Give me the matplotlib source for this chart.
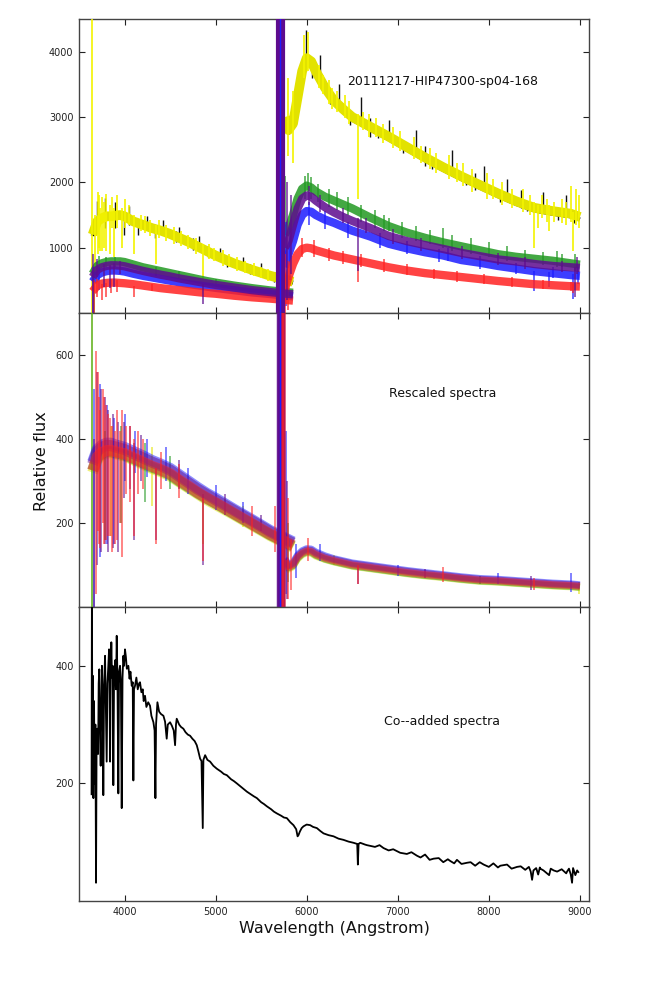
import matplotlib
matplotlib.use("Agg")
import matplotlib.pyplot as plt

# ---------------- data ----------------
# continuum grids (Angstrom)
BLUE_WL = [3650, 3700, 3750, 3800, 3850, 3900, 3950, 4000, 4100, 4200, 4300, 4400,
           4500, 4600, 4700, 4800, 4900, 5000, 5200, 5400, 5600, 5850]
RED_WL = [5760, 5800, 5850, 5900, 5950, 6000, 6050, 6100, 6200, 6300, 6400, 6500,
          6700, 6900, 7100, 7300, 7500, 7700, 7900, 8100, 8300, 8500, 8700, 8900, 9000]

# --- panel 1: raw spectra (blue arm / red arm) ---
RAW_BLACK_B = [1180, 1380, 1430, 1460, 1460, 1470, 1480, 1460, 1380, 1330, 1280, 1240,
               1190, 1130, 1070, 1000, 930, 860, 740, 640, 550, 465]
RAW_YELLOW_B = [1200, 1400, 1450, 1480, 1480, 1490, 1500, 1480, 1400, 1350, 1300, 1260,
                1210, 1150, 1090, 1020, 950, 880, 760, 660, 570, 480]
RAW_GREEN_B = [600, 720, 760, 780, 790, 790, 790, 780, 740, 700, 670, 640,
               610, 580, 550, 520, 490, 465, 420, 380, 345, 310]
RAW_PURPLE_B = [550, 660, 700, 720, 730, 730, 725, 715, 680, 645, 615, 585,
                560, 530, 505, 480, 455, 430, 390, 350, 320, 285]
RAW_BLUE_B = [480, 580, 620, 640, 650, 650, 645, 635, 600, 570, 545, 520,
              495, 470, 445, 425, 405, 385, 350, 315, 290, 255]
RAW_RED_B = [330, 420, 450, 460, 465, 465, 460, 455, 440, 420, 400, 380,
             365, 350, 335, 320, 305, 295, 265, 240, 220, 190]

RAW_BLACK_R = [2950, 2760, 2860, 3260, 3660, 3860, 3810, 3660, 3410, 3210, 3080, 2960,
               2810, 2660, 2500, 2340, 2190, 2050, 1920, 1790, 1670, 1570, 1520, 1480, 1430]
RAW_YELLOW_R = [3000, 2800, 2900, 3300, 3700, 3900, 3850, 3700, 3450, 3250, 3120, 3000,
                2850, 2700, 2540, 2380, 2230, 2090, 1960, 1830, 1710, 1610, 1560, 1520, 1470]
RAW_GREEN_R = [1200, 1300, 1500, 1750, 1900, 1950, 1920, 1860, 1780, 1720, 1660, 1600,
               1460, 1330, 1230, 1150, 1080, 1020, 960, 900, 860, 830, 800, 760, 740]
RAW_PURPLE_R = [1000, 1100, 1350, 1600, 1750, 1800, 1780, 1720, 1620, 1540, 1470, 1410,
                1300, 1180, 1100, 1040, 980, 920, 870, 820, 790, 750, 720, 700, 690]
RAW_BLUE_R = [700, 900, 1100, 1350, 1500, 1560, 1550, 1500, 1430, 1380, 1320, 1260,
              1170, 1060, 990, 930, 880, 810, 770, 720, 680, 640, 610, 580, 570]
RAW_RED_R = [350, 550, 750, 900, 980, 1000, 990, 960, 920, 880, 850, 820,
             760, 700, 650, 610, 580, 550, 520, 490, 465, 440, 425, 410, 405]

# narrow features and noise excursions of the raw spectra: (wavelength, low, high)
RAW_BLACK_SPIKES = [(3700, 1300, 1720), (3780, 1300, 1760), (3900, 1300, 1700), (3990, 1200, 1450),
                    (4050, 1350, 1640), (4150, 1200, 1400), (4250, 1300, 1480), (4330, 1150, 1330),
                    (4420, 1200, 1420), (4560, 1080, 1260), (4600, 1150, 1320), (4750, 970, 1150),
                    (4820, 1000, 1180), (4920, 850, 1020), (5050, 850, 1000), (5130, 700, 870),
                    (5300, 700, 860), (5380, 590, 750), (5500, 620, 760), (5640, 470, 630),
                    (5700, 520, 640), (5990, 3800, 4330), (6060, 3600, 3800), (6150, 3650, 3950),
                    (6260, 3200, 3400), (6350, 3250, 3500), (6480, 2880, 3050), (6600, 2900, 3300),
                    (6780, 2680, 2860), (6900, 2700, 2950), (7060, 2450, 2620), (7200, 2500, 2800),
                    (7380, 2200, 2380), (7600, 2200, 2500), (7750, 1960, 2130), (7950, 1950, 2250),
                    (8120, 1700, 1870), (8200, 1800, 2050), (8420, 1560, 1720), (8600, 1550, 1850),
                    (8760, 1430, 1600), (8850, 1500, 1800), (8940, 1380, 1550),
                    (6700, 2700, 2990), (7300, 2250, 2550), (7850, 1880, 2150), (8350, 1600, 1880)]
RAW_YELLOW_SPIKES = [(3643, -100, 6000), (3680, 600, 1500), (3705, 900, 1850), (3722, 1000, 1800),
                     (3734, 950, 1600), (3750, 950, 1780), (3770, 1000, 1700), (3798, 950, 1820),
                     (3835, 900, 1650), (3860, 1300, 1780), (3889, 850, 1600), (3920, 1300, 1800),
                     (3970, 1000, 1600), (4010, 1300, 1750), (4102, 900, 1500), (4340, 750, 1350),
                     (4861, 500, 1050), (5752, 2500, 6000), (5790, 2400, 3600), (5850, 2300, 3400),
                     (5970, 3600, 4250), (6010, 3700, 4300), (6563, 1750, 3050), (8498, 1000, 1700),
                     (8542, 1300, 1650), (8662, 1250, 1650), (8900, 1400, 1950), (8925, 950, 1550),
                     (8960, 1350, 1900), (8985, 1300, 1800),
                     (4050, 1350, 1650), (4180, 1250, 1500), (4230, 1220, 1480), (4280, 1180, 1420),
                     (4380, 1150, 1420), (4460, 1100, 1350), (4540, 1050, 1320), (4620, 1030, 1260),
                     (4700, 980, 1200), (4780, 900, 1150), (4930, 820, 1060), (4980, 800, 1000),
                     (5080, 720, 960), (5150, 700, 900), (5230, 650, 860), (5320, 610, 800),
                     (5420, 560, 760), (5500, 530, 700), (5580, 490, 680), (5680, 440, 640),
                     (5780, 400, 580),
                     (6130, 3450, 3800), (6180, 3350, 3650), (6240, 3200, 3560), (6280, 3120, 3450),
                     (6330, 3080, 3400), (6420, 2980, 3330), (6460, 2900, 3250), (6620, 2800, 3080),
                     (6680, 2700, 3050), (6760, 2700, 2980), (6840, 2600, 2900), (6950, 2520, 2850),
                     (7020, 2480, 2780), (7180, 2350, 2700), (7250, 2300, 2550), (7350, 2200, 2520),
                     (7420, 2150, 2450), (7560, 2050, 2420), (7650, 2000, 2300), (7720, 1950, 2300),
                     (7820, 1850, 2200), (7980, 1750, 2150), (8050, 1750, 2050), (8150, 1650, 2000),
                     (8250, 1600, 1900), (8380, 1550, 1900), (8450, 1500, 1800), (8580, 1450, 1800),
                     (8640, 1400, 1750), (8720, 1400, 1700), (8800, 1380, 1750), (8850, 1350, 1700)]
RAW_GREEN_SPIKES = [(3665, 0, 700), (3720, 650, 880), (3800, 700, 860), (3900, 700, 850),
                    (4340, 560, 700), (4600, 540, 640), (5000, 420, 520), (5765, 800, 2100),
                    (5980, 1750, 2100), (6010, 1850, 2150), (6050, 1750, 2080), (6120, 1700, 1980),
                    (6250, 1620, 1900), (6330, 1580, 1850), (6450, 1500, 1780), (6600, 1400, 1650),
                    (6750, 1300, 1580), (6850, 1250, 1500), (6900, 1250, 1450), (7050, 1150, 1400),
                    (7200, 1100, 1330), (7350, 1050, 1270), (7500, 1000, 1300), (7600, 950, 1200),
                    (7800, 900, 1150), (8000, 850, 1080), (8200, 800, 1020), (8400, 780, 970),
                    (8600, 740, 940), (8750, 700, 950), (8800, 700, 900), (8950, 650, 900)]
RAW_BLUE_SPIKES = [(3655, 0, 700), (3720, 350, 700), (5770, 100, 1400), (5820, 500, 1300),
                   (6030, 1350, 1700), (6200, 1280, 1560), (6450, 1150, 1400), (6800, 1000, 1230),
                   (7100, 900, 1100), (7450, 780, 980), (7550, 800, 1000), (7900, 680, 870),
                   (8300, 600, 770), (8498, 330, 650), (8662, 400, 620), (8700, 530, 700),
                   (8925, 210, 600), (8980, 450, 700)]
RAW_RED_SPIKES = [(3660, 0, 500), (3700, 250, 520), (3750, 200, 450), (3800, 250, 460),
                  (3850, 300, 520), (3920, 320, 500), (4102, 250, 420), (4300, 330, 450),
                  (5760, 0, 900), (5790, 50, 800), (5950, 850, 1150), (6080, 860, 1120),
                  (6250, 800, 1000), (6400, 750, 950), (6563, 480, 850), (6600, 700, 900),
                  (6850, 630, 820), (7100, 580, 750), (7400, 520, 680), (7650, 480, 640),
                  (7950, 440, 590), (8250, 400, 550), (8600, 370, 500), (8900, 340, 480),
                  (8920, 300, 450)]
RAW_PURPLE_SPIKES = [(3650, 0, 900), (3700, 550, 820), (3770, 400, 750), (3835, 380, 740),
                     (3889, 400, 760), (3950, 600, 800), (4861, 140, 450), (5780, 200, 2000),
                     (5830, 600, 1800), (6020, 1650, 1950), (6150, 1550, 1800), (6400, 1380, 1600),
                     (6563, 650, 1450), (6650, 1230, 1450), (6950, 1050, 1280), (7250, 950, 1150),
                     (7700, 830, 1030), (8100, 740, 920), (8400, 680, 860), (8800, 620, 800),
                     (8950, 250, 700), (8970, 600, 850)]

# edge of the red arm: flux runs off the scale in both directions
EDGE_WL = [5680, 5692, 5704, 5716, 5728, 5740]

# --- panel 2: rescaled spectra ---
RES_YELLOW_B = [320, 350, 362, 366, 368, 365, 362, 360, 350, 340, 330, 322,
                312, 298, 284, 270, 256, 244, 220, 195, 170, 142]
RES_GREEN_B = [325, 355, 365, 370, 370, 367, 365, 362, 353, 343, 333, 325,
               315, 300, 286, 272, 259, 247, 222, 197, 172, 145]
RES_BLUE_B = [345, 375, 385, 390, 390, 386, 383, 380, 370, 360, 349, 340,
              330, 315, 300, 285, 271, 259, 233, 208, 182, 155]
RES_PURPLE_B = [340, 370, 380, 385, 384, 381, 378, 375, 365, 355, 345, 336,
                326, 311, 296, 281, 268, 255, 230, 205, 179, 152]
RES_RED_B = [325, 357, 368, 372, 373, 370, 367, 365, 355, 345, 335, 327,
             317, 302, 288, 273, 260, 248, 223, 198, 173, 146]

RES_YELLOW_R = [105, 90, 96, 114, 124, 129, 128, 121, 113, 107, 102, 97,
                91, 85, 79, 74, 70, 65, 61, 59, 56, 53, 50, 48, 46]
RES_GREEN_R = [108, 93, 98, 116, 126, 131, 130, 123, 114, 108, 103, 98,
               92, 86, 80, 75, 71, 66, 62, 60, 57, 54, 51, 49, 47]
RES_BLUE_R = [116, 100, 106, 124, 134, 139, 138, 131, 122, 115, 110, 105,
              99, 93, 87, 82, 77, 72, 68, 66, 63, 60, 57, 55, 53]
RES_PURPLE_R = [113, 98, 103, 121, 131, 136, 135, 128, 119, 113, 108, 103,
                97, 91, 85, 80, 75, 70, 66, 64, 61, 58, 55, 53, 51]
RES_RED_R = [110, 95, 100, 118, 128, 133, 132, 125, 116, 110, 105, 100,
             94, 88, 82, 77, 73, 68, 64, 62, 59, 56, 53, 51, 49]

RES_YELLOW_SPIKES = [(3643, 0, 800), (3850, 170, 430), (4300, 240, 380), (4861, 150, 250),
                     (5300, 190, 240), (6300, 100, 125), (8990, 30, 60)]
RES_GREEN_SPIKES = [(3646, 0, 700), (3790, 160, 420), (3960, 200, 430), (4230, 250, 390),
                    (4500, 280, 360), (5800, 60, 200), (7900, 55, 75)]
RES_BLUE_SPIKES = [(3665, 0, 520), (3735, 120, 530), (3810, 150, 480), (3880, 150, 450),
                   (4000, 300, 460), (4120, 320, 420), (4250, 310, 400), (4450, 300, 380),
                   (4700, 270, 330), (5000, 230, 290), (5300, 200, 250), (5770, 30, 420),
                   (5880, 70, 150), (6150, 110, 150), (7000, 75, 100), (8100, 55, 80),
                   (8900, 35, 80)]
RES_PURPLE_SPIKES = [(3660, 0, 400), (3700, 100, 560), (3745, 130, 520), (3780, 150, 500),
                     (3820, 130, 470), (3870, 140, 460), (3930, 130, 440), (3990, 260, 440),
                     (4060, 280, 430), (4100, 160, 390), (4180, 300, 410), (4340, 160, 330),
                     (4600, 280, 350), (4861, 100, 270), (5100, 220, 270), (5500, 180, 220),
                     (5780, 20, 300), (6563, 55, 100), (7300, 70, 90), (8460, 40, 75)]
RES_RED_SPIKES = [(3690, 30, 610), (3705, 180, 560), (3720, 150, 500), (3730, 140, 470),
                  (3760, 200, 520), (3775, 150, 500), (3800, 160, 480), (3815, 170, 460),
                  (3840, 170, 450), (3860, 130, 430), (3900, 150, 420), (3915, 160, 470),
                  (3950, 200, 420), (3970, 120, 470), (4020, 270, 430), (4060, 250, 430),
                  (4102, 170, 400), (4150, 270, 420), (4200, 280, 400), (4340, 150, 330),
                  (4400, 280, 370), (4600, 260, 340), (4861, 110, 260), (5400, 170, 240),
                  (5650, 130, 240), (5760, 0, 700), (5790, 20, 260), (5830, 40, 160),
                  (6010, 110, 165), (6563, 55, 100), (7500, 60, 95), (8500, 40, 70)]

# --- panel 3: co-added spectrum ---
CO_WL = [3638, 3642, 3646, 3652, 3658, 3665, 3672, 3680, 3687, 3693, 3701, 3710, 3716, 3723,
         3730, 3738, 3745, 3752, 3760, 3767, 3775, 3786, 3795, 3804, 3812, 3822, 3830, 3836,
         3841, 3848, 3855, 3862, 3870, 3877, 3884, 3890, 3900, 3907, 3914, 3922, 3932, 3940,
         3951, 3960, 3969, 3978, 3987, 3995, 4005, 4015, 4025, 4042, 4055, 4065, 4079, 4090,
         4097, 4104, 4115, 4130, 4145, 4160, 4170, 4185, 4200, 4210, 4225, 4240, 4260, 4280,
         4295, 4317, 4330, 4339, 4346, 4361, 4380, 4400, 4427, 4445, 4463, 4475, 4500, 4520,
         4540, 4555, 4565, 4573, 4600, 4620, 4646, 4670, 4695, 4720, 4745, 4770, 4793, 4810,
         4830, 4845, 4859, 4866, 4885, 4910, 4940, 4975, 5013, 5060, 5090, 5123, 5170, 5200,
         5233, 5280, 5310, 5343, 5390, 5420, 5453, 5500, 5530, 5563, 5610, 5640, 5672, 5720,
         5750, 5782, 5820, 5855, 5885, 5900, 5910, 5925, 5945, 5965, 6000, 6038, 6070, 6112,
         6150, 6185, 6240, 6295, 6350, 6404, 6460, 6514, 6555, 6562, 6570, 6588, 6640, 6661,
         6750, 6800, 6844, 6900, 6950, 7027, 7100, 7150, 7211, 7250, 7300, 7350, 7394, 7450,
         7500, 7550, 7577, 7620, 7650, 7700, 7760, 7800, 7850, 7900, 7943, 8000, 8050, 8100,
         8126, 8200, 8250, 8310, 8350, 8400, 8440, 8460, 8475, 8490, 8520, 8542, 8560, 8566,
         8600, 8662, 8680, 8712, 8750, 8800, 8850, 8859, 8880, 8900, 8914, 8925, 8950, 8970, 8988]
CO_FLUX = [180, 560, 260, 383, 175, 340, 200, 300, 31, 260, 293, 250, 370, 394,
           300, 230, 330, 400, 344, 180, 360, 417, 330, 237, 370, 400, 428, 350,
           237, 380, 440, 380, 400, 197, 360, 389, 410, 360, 451, 380, 183, 390,
           400, 370, 158, 380, 417, 400, 428, 415, 395, 400, 378, 390, 366, 372,
           205, 360, 366, 380, 360, 370, 372, 355, 360, 340, 349, 330, 338, 332,
           315, 304, 290, 175, 300, 338, 322, 318, 315, 305, 276, 300, 304, 298,
           290, 265, 300, 310, 300, 296, 293, 287, 283, 281, 276, 272, 265, 255,
           242, 238, 124, 240, 248, 240, 237, 230, 225, 220, 216, 214, 207, 204,
           200, 194, 190, 186, 181, 178, 175, 168, 165, 161, 156, 152, 149, 145,
           142, 141, 134, 129, 122, 110, 112, 118, 124, 127, 130, 129, 126, 124,
           119, 115, 112, 110, 106, 104, 101, 99, 97, 62, 97, 99, 96, 95,
           92, 95, 90, 86, 88, 82, 80, 83, 77, 74, 79, 70, 72, 73,
           66, 71, 68, 64, 70, 63, 65, 66, 60, 66, 62, 58, 64, 57,
           60, 62, 55, 58, 59, 53, 58, 50, 36, 52, 56, 45, 57, 55,
           52, 44, 55, 52, 50, 54, 47, 50, 55, 45, 31, 56, 44, 52, 48]

TICKS_TOP = [1000, 2000, 3000, 4000]
TICKS_MID = [200, 400, 600]
TICKS_BOT = [200, 400]
TICKS_X = [4000, 5000, 6000, 7000, 8000, 9000]

TITLE_TOP = "20111217-HIP47300-sp04-168"
TITLE_MID = "Rescaled spectra"
TITLE_BOT = "Co--added spectra"

# ---------------- drawing ----------------
C_YEL = "#e2e200"
C_GRN = "#229922"
C_BLU = "#1c1cff"
C_PUR = "#5e0c8e"
C_RED = "#ff2222"

fig = plt.figure(figsize=(6.54, 9.81), dpi=100)
L, W, H = 79 / 654, 510 / 654, 294 / 981
ax1 = fig.add_axes([L, 1 - 313 / 981, W, H])
ax2 = fig.add_axes([L, 1 - 607 / 981, W, H])
ax3 = fig.add_axes([L, 1 - 901 / 981, W, H])


def line(ax, wl, fl, color, lw, alpha=1.0, z=2):
    ax.plot(wl, fl, color=color, lw=lw, alpha=alpha, zorder=z,
            solid_joinstyle="round", solid_capstyle="butt")


def spikes(ax, sp, color, lw=1.0, alpha=1.0, z=2):
    wl = [s[0] for s in sp]
    lo = [s[1] for s in sp]
    hi = [s[2] for s in sp]
    ax.vlines(wl, lo, hi, colors=color, lw=lw, alpha=alpha, zorder=z)


# panel 1
line(ax1, BLUE_WL, RAW_BLACK_B, "black", 3, 1, 2)
line(ax1, RED_WL, RAW_BLACK_R, "black", 3, 1, 2)
spikes(ax1, RAW_BLACK_SPIKES, "#111111", 1.0, 1, 2.5)
line(ax1, BLUE_WL, RAW_YELLOW_B, C_YEL, 7, 1, 3)
line(ax1, RED_WL, RAW_YELLOW_R, C_YEL, 7, 1, 3)
spikes(ax1, RAW_YELLOW_SPIKES, "#f4f400", 1.2, 1, 3)
for wlb, flb, wlr, flr, sp, c in [
        (BLUE_WL, RAW_GREEN_B, RED_WL, RAW_GREEN_R, RAW_GREEN_SPIKES, C_GRN),
        (BLUE_WL, RAW_BLUE_B, RED_WL, RAW_BLUE_R, RAW_BLUE_SPIKES, C_BLU),
        (BLUE_WL, RAW_RED_B, RED_WL, RAW_RED_R, RAW_RED_SPIKES, C_RED),
        (BLUE_WL, RAW_PURPLE_B, RED_WL, RAW_PURPLE_R, RAW_PURPLE_SPIKES, C_PUR)]:
    line(ax1, wlb, flb, c, 6, 0.85, 4)
    line(ax1, wlr, flr, c, 6, 0.85, 4)
    spikes(ax1, sp, c, 1.1, 0.85, 4)
ax1.vlines(EDGE_WL, -1e5, 1e5, colors=C_PUR, lw=3, zorder=5)
ax1.vlines(EDGE_WL[2:3], -1e5, 1e5, colors=C_BLU, lw=1, zorder=5)

# panel 2
for wlb, flb, wlr, flr, sp, c in [
        (BLUE_WL, RES_YELLOW_B, RED_WL, RES_YELLOW_R, RES_YELLOW_SPIKES, C_YEL),
        (BLUE_WL, RES_GREEN_B, RED_WL, RES_GREEN_R, RES_GREEN_SPIKES, C_GRN),
        (BLUE_WL, RES_BLUE_B, RED_WL, RES_BLUE_R, RES_BLUE_SPIKES, C_BLU),
        (BLUE_WL, RES_PURPLE_B, RED_WL, RES_PURPLE_R, RES_PURPLE_SPIKES, C_PUR),
        (BLUE_WL, RES_RED_B, RED_WL, RES_RED_R, RES_RED_SPIKES, C_RED)]:
    line(ax2, wlb, flb, c, 8, 0.5, 3)
    line(ax2, wlr, flr, c, 5, 0.5, 3)
    spikes(ax2, sp, c, 1.1, 0.7, 3)
ax2.vlines(EDGE_WL, -1e5, 1e5, colors=C_PUR, lw=2.5, alpha=0.9, zorder=4)
ax2.vlines(EDGE_WL[4:], -1e5, 1e5, colors=C_RED, lw=2, alpha=0.6, zorder=4)
ax2.vlines(EDGE_WL[2:3], -1e5, 1e5, colors=C_BLU, lw=1, zorder=4)

# panel 3
line(ax3, CO_WL, CO_FLUX, "black", 1.3, 1, 3)

# axes styling
for ax, ticks, ylim in [(ax1, TICKS_TOP, (0, 4500)), (ax2, TICKS_MID, (0, 700)),
                        (ax3, TICKS_BOT, (0, 500))]:
    ax.set_xlim(3500, 9100)
    ax.set_ylim(*ylim)
    ax.set_yticks(ticks)
    ax.set_xticks(TICKS_X)
    ax.tick_params(direction="in", top=True, right=True, length=4, width=0.8,
                   labelsize=7, colors="#222222", pad=4)
    for s in ax.spines.values():
        s.set_color("#444444")
        s.set_linewidth(1.0)
ax1.tick_params(labelbottom=False)
ax2.tick_params(labelbottom=False)

ax1.text(7490, 3550, TITLE_TOP, ha="center", va="center", fontsize=9, color="#111111")
ax2.text(7490, 509, TITLE_MID, ha="center", va="center", fontsize=9, color="#111111")
ax3.text(7490, 306, TITLE_BOT, ha="center", va="center", fontsize=9, color="#111111")

fig.text(42 / 654, 1 - 461 / 981, "Relative flux", rotation=90, ha="center", va="center",
         fontsize=11.5, color="#111111")
fig.text(334 / 654, 1 - 928 / 981, "Wavelength (Angstrom)", ha="center", va="center",
         fontsize=11.5, color="#111111")

fig.savefig("out.png", dpi=100)
